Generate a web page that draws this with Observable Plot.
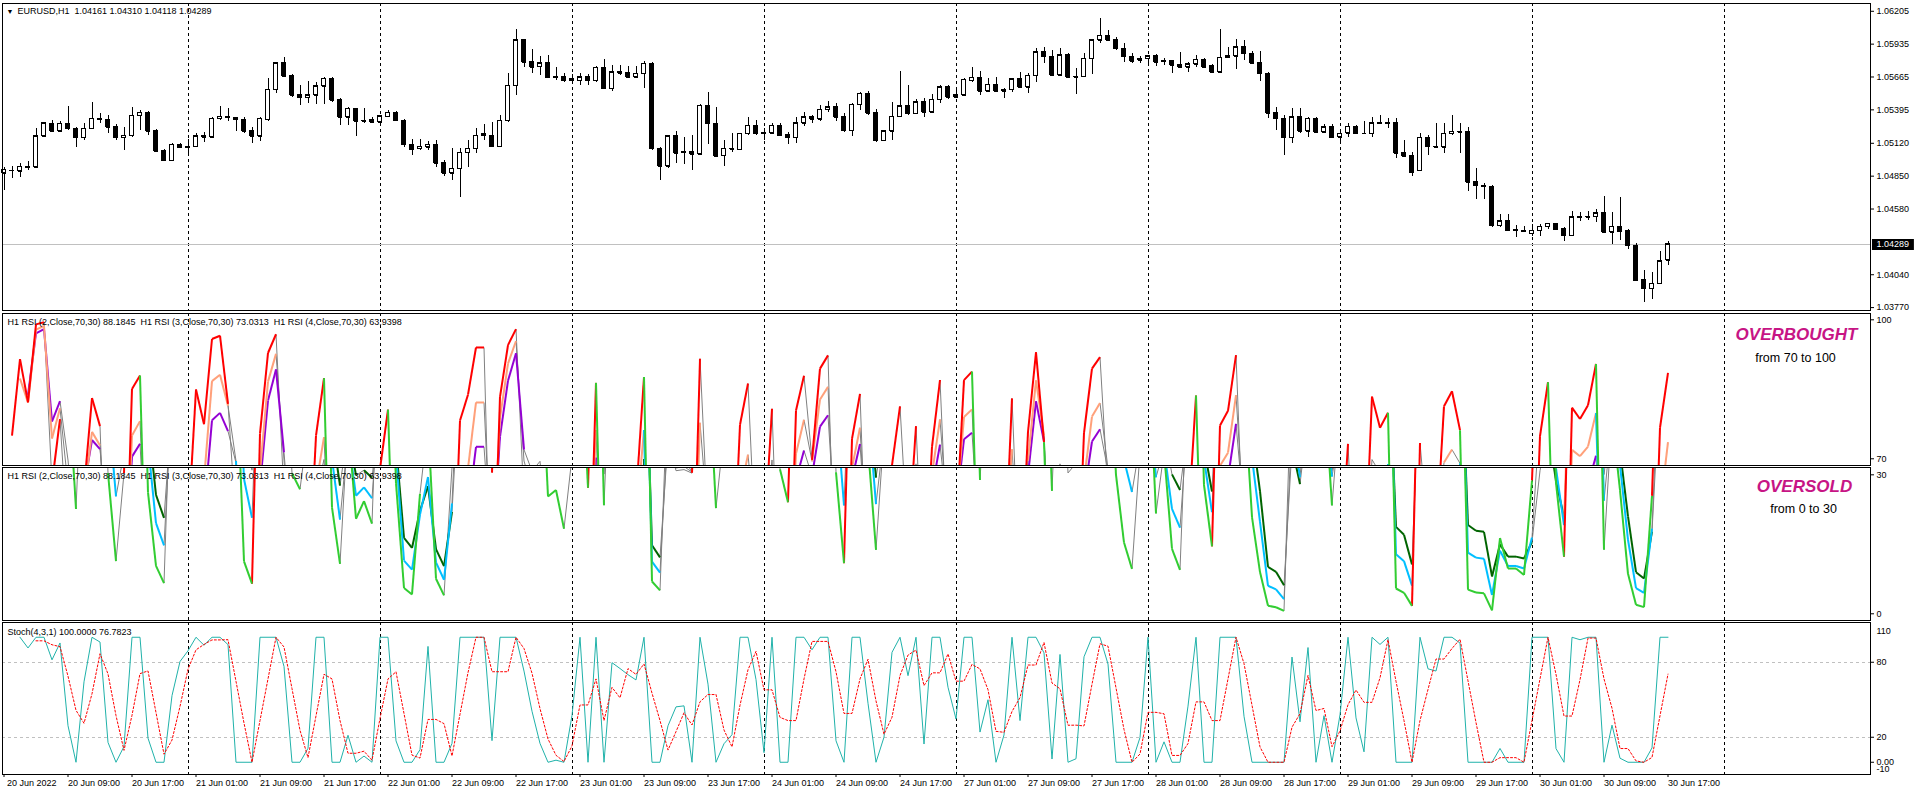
<!DOCTYPE html>
<html><head><meta charset="utf-8">
<script src="https://cdn.jsdelivr.net/npm/d3@7"></script>
<script src="https://cdn.jsdelivr.net/npm/@observablehq/plot@0.6"></script>
<style>
body{margin:0;background:#fff;}
#wrap{position:relative;width:1916px;height:795px;overflow:hidden;background:#fff;}
#wrap svg{overflow:hidden;}
</style></head><body><div id="wrap"></div>
<script>
// ---------- data (EURUSD H1, bar 0 = 20 Jun 2022 00:00) ----------
const titleText = "EURUSD,H1  1.04161 1.04310 1.04118 1.04289";
const dayNames = ["20 Jun","21 Jun","22 Jun","23 Jun","24 Jun","27 Jun","28 Jun","29 Jun","30 Jun"];
const labelHours = [1, 9, 17];
const open = [
1.04860,1.04875,1.04896,1.04890,1.04920,1.04924,1.05176,1.05280,1.05220,1.05280,
1.05239,1.05165,1.05239,1.05321,1.05315,1.05252,1.05165,1.05184,1.05346,1.05371,
1.05220,1.05055,1.04978,1.05107,1.05082,1.05093,1.05184,1.05170,1.05321,1.05340,
1.05330,1.05315,1.05225,1.05176,1.05315,1.05560,1.05779,1.05672,1.05518,1.05493,
1.05513,1.05587,1.05650,1.05472,1.05335,1.05403,1.05302,1.05315,1.05294,1.05340,
1.05370,1.05307,1.05110,1.05074,1.05088,1.05107,1.04957,1.04875,1.04910,1.05041,
1.05074,1.05198,1.05184,1.05093,1.05307,1.05595,1.05965,1.05787,1.05750,1.05779,
1.05664,1.05667,1.05636,1.05636,1.05663,1.05636,1.05740,1.05568,1.05705,1.05697,
1.05664,1.05691,1.05773,1.05074,1.04930,1.05176,1.05047,1.05047,1.05030,1.05430,
1.05280,1.05017,1.05074,1.05066,1.05198,1.05263,1.05198,1.05203,1.05263,1.05190,
1.05165,1.05285,1.05340,1.05318,1.05395,1.05417,1.05335,1.05225,1.05436,1.05526,
1.05367,1.05143,1.05220,1.05340,1.05425,1.05362,1.05458,1.05376,1.05477,1.05581,
1.05499,1.05513,1.05636,1.05658,1.05548,1.05603,1.05548,1.05560,1.05647,1.05581,
1.05675,1.05869,1.05833,1.05680,1.05843,1.05664,1.05669,1.05815,1.05965,1.06006,
1.05965,1.05896,1.05833,1.05801,1.05815,1.05836,1.05790,1.05795,1.05765,1.05746,
1.05768,1.05806,1.05752,1.05705,1.05823,1.05836,1.05910,1.05855,1.05779,1.05691,
1.05367,1.05321,1.05165,1.05335,1.05220,1.05321,1.05211,1.05252,1.05170,1.05203,
1.05258,1.05203,1.05198,1.05285,1.05280,1.05285,1.05039,1.05017,1.04893,1.05165,
1.05093,1.05088,1.05198,1.05217,1.05211,1.04800,1.04770,1.04765,1.04444,1.04480,
1.04408,1.04403,1.04376,1.04403,1.04436,1.04458,1.04414,1.04362,1.04513,1.04513,
1.04518,1.04545,1.04390,1.04436,1.04403,1.04280,1.03997,1.03924,1.03965,1.04161];
const high = [
1.04900,1.04924,1.04930,1.04955,1.04973,1.05239,1.05294,1.05307,1.05300,1.05422,
1.05252,1.05280,1.05458,1.05367,1.05348,1.05274,1.05252,1.05411,1.05389,1.05384,
1.05231,1.05066,1.05115,1.05121,1.05148,1.05198,1.05211,1.05335,1.05422,1.05403,
1.05335,1.05330,1.05252,1.05330,1.05650,1.05787,1.05828,1.05686,1.05595,1.05630,
1.05622,1.05664,1.05664,1.05485,1.05411,1.05403,1.05403,1.05335,1.05348,1.05389,
1.05384,1.05315,1.05154,1.05148,1.05137,1.05143,1.04978,1.05074,1.05074,1.05143,
1.05239,1.05274,1.05294,1.05348,1.05691,1.06053,1.05970,1.05891,1.05836,1.05842,
1.05746,1.05691,1.05686,1.05691,1.05686,1.05752,1.05806,1.05760,1.05760,1.05752,
1.05752,1.05795,1.05787,1.05088,1.05184,1.05220,1.05170,1.05184,1.05439,1.05540,
1.05417,1.05143,1.05203,1.05203,1.05335,1.05307,1.05239,1.05280,1.05280,1.05211,
1.05335,1.05370,1.05348,1.05430,1.05464,1.05450,1.05362,1.05450,1.05540,1.05548,
1.05395,1.05225,1.05458,1.05713,1.05595,1.05477,1.05485,1.05521,1.05595,1.05595,
1.05576,1.05650,1.05746,1.05713,1.05650,1.05658,1.05568,1.05650,1.05705,1.05691,
1.05896,1.05905,1.05883,1.05896,1.05855,1.05731,1.05861,1.05970,1.06143,1.06047,
1.05992,1.05937,1.05855,1.05833,1.05842,1.05850,1.05815,1.05801,1.05864,1.05787,
1.05842,1.05820,1.05768,1.06053,1.05910,1.05970,1.05965,1.05877,1.05877,1.05705,
1.05411,1.05348,1.05403,1.05403,1.05335,1.05335,1.05274,1.05274,1.05220,1.05280,
1.05266,1.05302,1.05330,1.05348,1.05320,1.05321,1.05143,1.05047,1.05198,1.05184,
1.05280,1.05280,1.05348,1.05280,1.05252,1.04910,1.04787,1.04773,1.04535,1.04535,
1.04444,1.04436,1.04452,1.04452,1.04458,1.04463,1.04430,1.04562,1.04554,1.04562,
1.04573,1.04682,1.04554,1.04672,1.04409,1.04293,1.04074,1.04060,1.04233,1.04310];
const low = [
1.04840,1.04732,1.04830,1.04841,1.04900,1.04918,1.05170,1.05211,1.05211,1.05225,
1.05088,1.05143,1.05230,1.05280,1.05198,1.05143,1.05061,1.05170,1.05225,1.05184,
1.05047,1.04973,1.04973,1.05074,1.05033,1.05082,1.05129,1.05162,1.05307,1.05302,
1.05220,1.05198,1.05121,1.05137,1.05302,1.05532,1.05658,1.05499,1.05430,1.05444,
1.05439,1.05439,1.05458,1.05266,1.05266,1.05176,1.05280,1.05280,1.05274,1.05335,
1.05302,1.05088,1.05020,1.05061,1.05061,1.04924,1.04847,1.04814,1.04677,1.04924,
1.05033,1.05143,1.05088,1.05088,1.05294,1.05513,1.05746,1.05697,1.05677,1.05650,
1.05636,1.05622,1.05615,1.05595,1.05595,1.05622,1.05560,1.05548,1.05677,1.05658,
1.05664,1.05568,1.05061,1.04814,1.04910,1.04951,1.04946,1.04896,1.05025,1.05110,
1.05006,1.04932,1.05041,1.05061,1.05184,1.05184,1.05143,1.05198,1.05176,1.05110,
1.05121,1.05258,1.05280,1.05302,1.05376,1.05302,1.05211,1.05176,1.05389,1.05348,
1.05129,1.05137,1.05143,1.05335,1.05348,1.05357,1.05335,1.05370,1.05444,1.05477,
1.05485,1.05504,1.05622,1.05513,1.05540,1.05540,1.05485,1.05540,1.05568,1.05532,
1.05622,1.05779,1.05669,1.05669,1.05658,1.05521,1.05660,1.05686,1.05937,1.05959,
1.05883,1.05787,1.05773,1.05773,1.05773,1.05752,1.05760,1.05697,1.05740,1.05705,
1.05746,1.05740,1.05697,1.05697,1.05815,1.05730,1.05801,1.05773,1.05630,1.05321,
1.05225,1.05020,1.05115,1.05198,1.05165,1.05198,1.05198,1.05157,1.05129,1.05170,
1.05190,1.05190,1.05165,1.05274,1.05239,1.04998,1.05006,1.04847,1.04891,1.05020,
1.05082,1.05039,1.05184,1.05039,1.04726,1.04655,1.04655,1.04430,1.04430,1.04398,
1.04343,1.04390,1.04354,1.04354,1.04409,1.04403,1.04315,1.04362,1.04480,1.04485,
1.04472,1.04376,1.04288,1.04321,1.04244,1.03986,1.03814,1.03833,1.03960,1.04118];
const close = [
1.04875,1.04902,1.04893,1.04928,1.04925,1.05176,1.05285,1.05220,1.05280,1.05239,
1.05165,1.05239,1.05321,1.05315,1.05252,1.05165,1.05184,1.05346,1.05371,1.05220,
1.05055,1.04978,1.05107,1.05082,1.05093,1.05176,1.05170,1.05321,1.05340,1.05330,
1.05315,1.05220,1.05176,1.05321,1.05560,1.05779,1.05672,1.05513,1.05493,1.05513,
1.05587,1.05650,1.05472,1.05335,1.05403,1.05302,1.05307,1.05294,1.05343,1.05370,
1.05307,1.05110,1.05069,1.05093,1.05107,1.04957,1.04875,1.04910,1.05041,1.05074,
1.05184,1.05184,1.05093,1.05307,1.05595,1.05965,1.05787,1.05746,1.05779,1.05658,
1.05660,1.05636,1.05645,1.05663,1.05636,1.05740,1.05568,1.05705,1.05697,1.05664,
1.05691,1.05773,1.05074,1.04930,1.05176,1.05039,1.05041,1.05030,1.05430,1.05280,
1.05012,1.05074,1.05071,1.05198,1.05263,1.05198,1.05203,1.05263,1.05184,1.05165,
1.05285,1.05335,1.05318,1.05395,1.05417,1.05335,1.05225,1.05436,1.05526,1.05367,
1.05143,1.05220,1.05340,1.05425,1.05362,1.05458,1.05376,1.05477,1.05581,1.05499,
1.05513,1.05643,1.05658,1.05548,1.05603,1.05548,1.05560,1.05647,1.05581,1.05675,
1.05869,1.05833,1.05680,1.05843,1.05664,1.05669,1.05815,1.05965,1.06006,1.05965,
1.05896,1.05833,1.05795,1.05815,1.05836,1.05787,1.05795,1.05760,1.05746,1.05768,
1.05806,1.05746,1.05705,1.05823,1.05836,1.05910,1.05855,1.05779,1.05691,1.05367,
1.05321,1.05165,1.05335,1.05220,1.05321,1.05211,1.05252,1.05165,1.05198,1.05258,
1.05198,1.05203,1.05285,1.05280,1.05285,1.05039,1.05012,1.04880,1.05165,1.05093,
1.05088,1.05198,1.05217,1.05211,1.04800,1.04770,1.04765,1.04444,1.04480,1.04403,
1.04403,1.04395,1.04403,1.04436,1.04458,1.04409,1.04362,1.04513,1.04510,1.04518,
1.04545,1.04390,1.04436,1.04395,1.04280,1.03992,1.03924,1.03965,1.04150,1.04289];

const priceTicks = [1.06205,1.05935,1.05665,1.05395,1.05120,1.04850,1.04580,1.04040,1.03770];
const obTicks = [100, 70];
const osTicks = [30, 0];
const stochTicks = [80, 20, 0];
const stochEdgeTicks = [110, -10];
const stochLevels = [80, 20];
const rsiLabel = "H1 RSI (2,Close,70,30) 88.1845  H1 RSI (3,Close,70,30) 73.0313  H1 RSI (4,Close,70,30) 63.9398";
const stochLabel = "Stoch(4,3,1) 100.0000 76.7823";
const rsiSeries = [
  {period: 4, ob: "#9400d3", os: "#006400"},
  {period: 3, ob: "#ffa07a", os: "#00bfff"},
  {period: 2, ob: "#ff0000", os: "#32cd32"}
];

// ---------- derived ----------
const n = close.length;
const bars = d3.range(n).map(i => ({i, o: open[i], h: high[i], l: low[i], c: close[i]}));
const seps = d3.range(1, 10).map(k => k * 24);
const timeTicks = [];
dayNames.forEach((d, k) => labelHours.forEach(h => {
  const i = k * 24 + h;
  if (i < n) timeTicks.push({i, first: k === 0 && h === 1, label: (k === 0 && h === 1) ? "20 Jun 2022" : `${d} ${String(h).padStart(2,"0")}:00`});
}));

function rsi(c, p) {
  const out = new Array(c.length).fill(NaN);
  let pos = 0, neg = 0;
  for (let i = 1; i < c.length; i++) {
    const d = c[i] - c[i-1], up = d > 0 ? d : 0, dn = d < 0 ? -d : 0;
    if (i <= p) { pos += up; neg += dn; if (i < p) continue; pos /= p; neg /= p; }
    else { pos = (pos * (p - 1) + up) / p; neg = (neg * (p - 1) + dn) / p; }
    out[i] = neg === 0 ? 100 : 100 - 100 / (1 + pos / neg);
  }
  return out;
}
const segs = [];
rsiSeries.forEach(s => {
  const v = rsi(close, s.period);
  for (let i = 1; i < n; i++) {
    if (isNaN(v[i-1]) || isNaN(v[i])) continue;
    const z = v[i] > 70 ? "ob" : v[i] < 30 ? "os" : "mid";
    segs.push({x1: i-1, y1: v[i-1], x2: i, y2: v[i], z, p: s.period});
  }
});
const K = close.map((c, i) => {
  if (i < 3) return NaN;
  const w = close.slice(i-3, i+1), hh = d3.max(w), ll = d3.min(w);
  return hh === ll ? 100 : 100 * (c - ll) / (hh - ll);
});
const D = K.map((k, i) => i < 5 ? NaN : (K[i] + K[i-1] + K[i-2]) / 3);
const stoch = d3.range(n).map(i => ({i, k: K[i], d: D[i]}));

// ---------- layout ----------
const W = 1916, ML = 2, MR = 46;
const xDomain = [0.8125, 234.3125];
const FONT = '"Liberation Sans", Arial, sans-serif';
const wrap = document.getElementById("wrap");
const crisp = {shapeRendering: "crispEdges"};
const sepMark = () => Plot.ruleX(seps, {stroke: "black", strokeDasharray: "3,3", ...crisp});

function panel(top, bottom, extraBottom, opts) {
  const svg = Plot.plot({
    width: W, height: bottom - top + 2 + extraBottom,
    marginLeft: ML, marginRight: MR, marginTop: 1, marginBottom: 1 + extraBottom,
    style: `font-family:${FONT};font-size:9px;background:transparent;color:black;overflow:hidden;`,
    ...opts
  });
  svg.style.position = "absolute"; svg.style.left = "0px"; svg.style.top = (top - 1) + "px";
  wrap.appendChild(svg);
}
const yAxisOpts = (ticks, fmt) => ({axis: "right", ticks, tickFormat: fmt, tickSize: 3, tickPadding: 3, label: null});

// price panel
const last = close[n - 1];
panel(3, 310, 0, {
  x: {domain: xDomain, axis: null},
  y: {domain: [1.03746, 1.06269], ...yAxisOpts(priceTicks, d => d.toFixed(5))},
  marks: [
    sepMark(),
    Plot.ruleY([last], {stroke: "#c0c0c0", ...crisp}),
    Plot.ruleX(bars, {x: "i", y1: "l", y2: "h", stroke: "black", ...crisp}),
    Plot.rect(bars, {filter: d => d.c >= d.o, x1: d => d.i - 0.25, x2: d => d.i + 0.25, y1: "o", y2: "c", fill: "white", stroke: "black", ...crisp}),
    Plot.rect(bars, {filter: d => d.c < d.o, x1: d => d.i - 0.25, x2: d => d.i + 0.25, y1: "o", y2: "c", fill: "black", stroke: "black", ...crisp}),
    Plot.ruleY(bars, {y: "o", x1: d => d.i - 0.25, x2: d => d.i + 0.25, stroke: "black", ...crisp}),
    Plot.ruleY(bars, {y: "c", x1: d => d.i - 0.25, x2: d => d.i + 0.25, stroke: "black", ...crisp}),
    Plot.frame({stroke: "black", ...crisp}),
    Plot.text(["\u25BC"], {frameAnchor: "top-left", dx: 4, dy: 8, fontSize: 7, textAnchor: "start", lineAnchor: "middle"}),
    Plot.text([titleText], {frameAnchor: "top-left", dx: 15, dy: 8, textAnchor: "start", lineAnchor: "middle"}),
    Plot.ruleY([last], {x1: 234.56, x2: 239.8, stroke: "black", strokeWidth: 11}),
    Plot.text([last], {y: d => d, text: d => d.toFixed(5), frameAnchor: "right", dx: 6, textAnchor: "start", fill: "white"})
  ]
});

function rsiMarks() {
  const m = [Plot.link(segs.filter(s => s.z === "mid"), {x1: "x1", y1: "y1", x2: "x2", y2: "y2", stroke: "#808080", strokeWidth: 1, clip: true})];
  rsiSeries.forEach(s => {
    m.push(Plot.link(segs.filter(g => g.p === s.period && g.z === "ob"), {x1: "x1", y1: "y1", x2: "x2", y2: "y2", stroke: s.ob, strokeWidth: 2, clip: true}));
    m.push(Plot.link(segs.filter(g => g.p === s.period && g.z === "os"), {x1: "x1", y1: "y1", x2: "x2", y2: "y2", stroke: s.os, strokeWidth: 2, clip: true}));
  });
  return m;
}

// RSI overbought panel
panel(313, 465, 0, {
  x: {domain: xDomain, axis: null},
  y: {domain: [68.55, 101.36], ...yAxisOpts(obTicks, d => String(d))},
  marks: [
    sepMark(), ...rsiMarks(),
    Plot.frame({stroke: "black", ...crisp}),
    Plot.text([rsiLabel], {frameAnchor: "top-left", dx: 5, dy: 9, textAnchor: "start", lineAnchor: "middle"}),
    Plot.text(["OVERBOUGHT"], {frameAnchor: "top-right", dx: -74, dy: 21, textAnchor: "middle", lineAnchor: "middle", fill: "#c71585", fontSize: 17, fontWeight: "bold", fontStyle: "italic"}),
    Plot.text(["from 70 to 100"], {frameAnchor: "top-right", dx: -75, dy: 44, textAnchor: "middle", lineAnchor: "middle", fontSize: 12.5})
  ]
});

// RSI oversold panel
panel(467, 620, 0, {
  x: {domain: xDomain, axis: null},
  y: {domain: [-1.45, 31.58], ...yAxisOpts(osTicks, d => String(d))},
  marks: [
    sepMark(), ...rsiMarks(),
    Plot.frame({stroke: "black", ...crisp}),
    Plot.text([rsiLabel], {frameAnchor: "top-left", dx: 5, dy: 9, textAnchor: "start", lineAnchor: "middle"}),
    Plot.text(["OVERSOLD"], {frameAnchor: "top-right", dx: -66, dy: 19, textAnchor: "middle", lineAnchor: "middle", fill: "#c71585", fontSize: 17, fontWeight: "bold", fontStyle: "italic"}),
    Plot.text(["from 0 to 30"], {frameAnchor: "top-right", dx: -67, dy: 41, textAnchor: "middle", lineAnchor: "middle", fontSize: 12.5})
  ]
});

// Stochastic panel + time axis
panel(622, 774, 20, {
  x: {domain: xDomain, axis: "bottom", ticks: timeTicks.map(d => d.i), tickFormat: () => "", tickSize: 3, label: null},
  y: {domain: [-9.8, 111.8], ...yAxisOpts(stochTicks, d => d === 0 ? "0.00" : String(d))},
  marks: [
    Plot.ruleY(stochLevels, {stroke: "#c0c0c0", strokeDasharray: "3,3", ...crisp}),
    sepMark(),
    Plot.line(stoch.filter(d => !isNaN(d.k)), {x: "i", y: "k", stroke: "#20b2aa", strokeWidth: 1}),
    Plot.line(stoch.filter(d => !isNaN(d.d)), {x: "i", y: "d", stroke: "#ff0000", strokeWidth: 1, strokeDasharray: "2,2"}),
    Plot.frame({stroke: "black", ...crisp}),
    Plot.text([stochLabel], {frameAnchor: "top-left", dx: 5, dy: 10, textAnchor: "start", lineAnchor: "middle"}),
    Plot.text(stochEdgeTicks.filter(d => d > 0), {y: d => d, text: d => String(d), frameAnchor: "right", dx: 6, dy: 6, textAnchor: "start", lineAnchor: "middle"}),
    Plot.text(stochEdgeTicks.filter(d => d < 0), {y: d => d, text: d => String(d), frameAnchor: "right", dx: 6, dy: -6, textAnchor: "start", lineAnchor: "middle"}),
    Plot.text(timeTicks.filter(d => d.first), {x: "i", text: "label", frameAnchor: "bottom", dy: 9, dx: 3, textAnchor: "start", lineAnchor: "middle"}),
    Plot.text(timeTicks.filter(d => !d.first), {x: "i", text: "label", frameAnchor: "bottom", dy: 9, dx: 0, textAnchor: "start", lineAnchor: "middle"})
  ]
});
</script></body></html>
